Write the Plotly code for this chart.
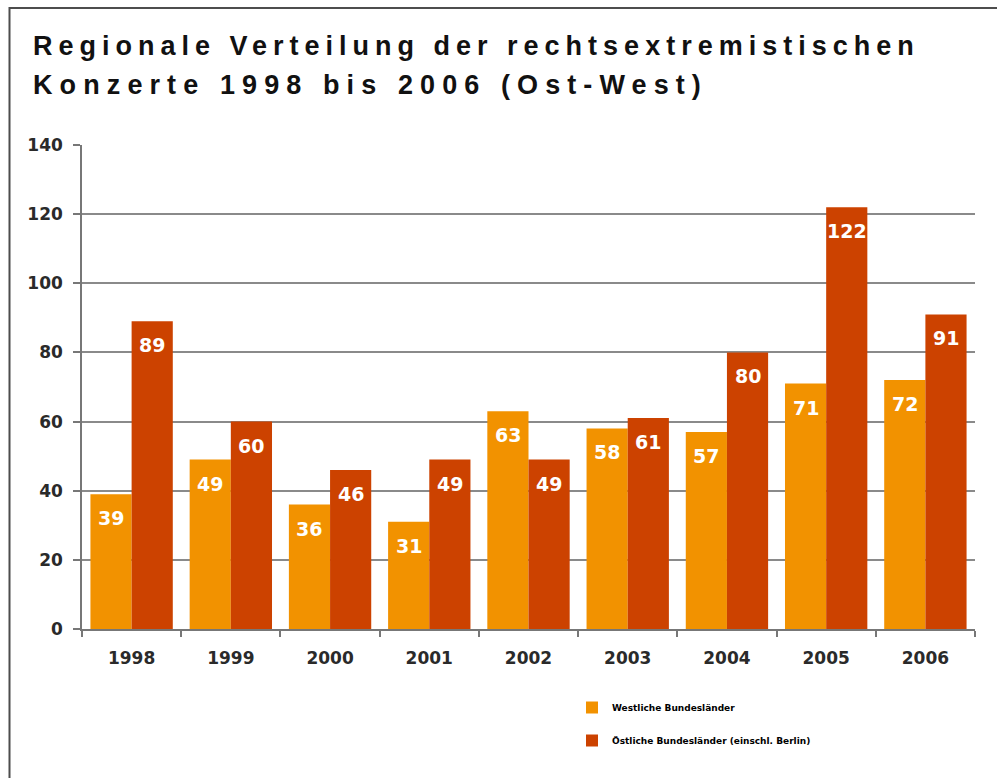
import plotly.graph_objects as go

years = ["1998", "1999", "2000", "2001", "2002", "2003", "2004", "2005", "2006"]
west = [39, 49, 36, 31, 63, 58, 57, 71, 72]
east = [89, 60, 46, 49, 49, 61, 80, 122, 91]
series_names = ["Westliche Bundesländer", "Östliche Bundesländer (einschl. Berlin)"]
y_ticks = [0, 20, 40, 60, 80, 100, 120, 140]
title_text = "Regionale Verteilung der rechtsextremistischen<br>Konzerte 1998 bis 2006 (Ost-West)"

ORANGE = "#F29200"
RED = "#CC4200"

W, H = 997, 778
L, R, T, B = 82, 22, 145, 149
plot_w = W - L - R
plot_h = H - T - B

fig = go.Figure()
fig.add_trace(go.Bar(x=years, y=west, name=series_names[0], marker_color=ORANGE,
                     marker_line_width=0, legendgroup="w"))
fig.add_trace(go.Bar(x=years, y=east, name=series_names[1], marker_color=RED,
                     marker_line_width=0, legendgroup="e"))

bargap = 0.17
bar_w = plot_w / len(years) * (1 - bargap) / 2
label_font = dict(family="DejaVu Sans", size=19, color="white", weight="bold")
for vals, sh in ((west, -bar_w / 2), (east, bar_w / 2)):
    for i, v in enumerate(vals):
        fig.add_annotation(x=i, y=v, xref="x", yref="y", text=str(v), showarrow=False,
                           xshift=sh, yshift=-24, yanchor="middle", xanchor="center",
                           font=label_font)

# frame
fig.add_shape(type="rect", xref="paper", yref="paper",
              x0=(9.5 - L) / plot_w, x1=(W + 10 - L) / plot_w,
              y0=-(H + 10 - (T + plot_h)) / plot_h, y1=(T + plot_h - 8) / plot_h,
              line=dict(color="#4d4d4d", width=2), layer="below")

fig.update_layout(
    width=W, height=H,
    margin=dict(l=L, r=R, t=T, b=B, autoexpand=False),
    paper_bgcolor="white", plot_bgcolor="white",
    barmode="group", bargap=bargap, bargroupgap=0,
    title=dict(text=title_text, x=33 / W, xanchor="left", xref="container",
               y=1 - 55 / H, yanchor="top", yref="container",
               font=dict(family="Liberation Sans, Arial", size=27, color="#111111", weight="bold")),
    showlegend=True,
    legend=dict(x=(572 - L) / plot_w, xanchor="left", y=-(693 - (T + plot_h)) / plot_h, yanchor="top",
                orientation="v", tracegroupgap=14, bgcolor="rgba(0,0,0,0)",
                font=dict(family="DejaVu Sans", size=9, color="#000000", weight="bold")),
    font=dict(family="DejaVu Sans"),
)

fig.update_xaxes(type="category", showgrid=False, showline=True, linecolor="#777777", linewidth=1.5,
                 ticks="outside", tickson="boundaries", ticklen=6, tickcolor="#777777",
                 tickwidth=1.5, ticklabelstandoff=13, tickangle=0,
                 tickfont=dict(family="DejaVu Sans", size=17, color="#2a2a2a", weight="bold"))
fig.update_yaxes(range=[0, 140], tickvals=y_ticks, showgrid=True, gridcolor="#8a8a8a",
                 gridwidth=2, zeroline=False, showline=True, linecolor="#777777", linewidth=1.5,
                 ticks="outside", ticklen=7, tickcolor="#777777", tickwidth=1.5,
                 ticklabelstandoff=7,
                 tickfont=dict(family="DejaVu Sans", size=17, color="#2a2a2a", weight="bold"))

post = ("document.body.style.margin='0';"
        "var ls=document.querySelectorAll('.gtitle tspan.line');"
        "if(ls.length>1){ls[0].style.letterSpacing='6px';ls[1].style.letterSpacing='7.1px';"
        "var d=ls[1].getAttribute('dy');"
        "if(d&&d.indexOf('em')>0){ls[1].setAttribute('dy',(parseFloat(d)*1.11)+'em');}}"
        "else{document.querySelectorAll('.gtitle').forEach(function(e){e.style.letterSpacing='6.2px';});}")
fig.write_html("out.html", post_script=post, config={"displayModeBar": False})
